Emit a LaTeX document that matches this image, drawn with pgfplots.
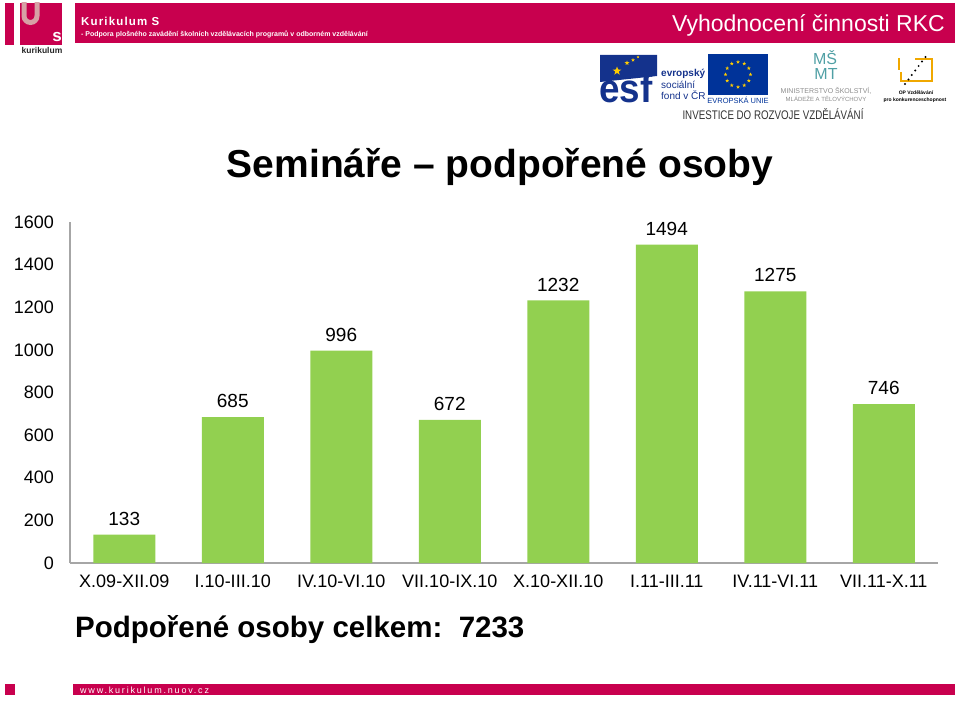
\documentclass[border=0pt]{standalone}
\usepackage{fontspec}
\setmainfont{Liberation Sans}
\usepackage{graphicx}
\usepackage{pgfplots}
\pgfplotsset{compat=1.18}
\usetikzlibrary{shapes.geometric}
\definecolor{crim}{RGB}{200,0,78}
\definecolor{pinkP}{RGB}{215,160,165}
\definecolor{bargreen}{RGB}{146,208,80}
\definecolor{axgray}{RGB}{166,166,166}
\definecolor{esfblue}{RGB}{20,50,140}
\definecolor{eublue}{RGB}{0,51,153}
\definecolor{eugold}{RGB}{255,204,0}
\definecolor{msmt}{RGB}{80,160,165}
\definecolor{opor}{RGB}{240,168,0}
\newcommand\fs[1]{\fontsize{#1}{#1}\selectfont}
\begin{document}
\begin{tikzpicture}[x=1pt,y=1pt]
\path[use as bounding box] (0pt,0pt) rectangle (960pt,702pt);
% ---- left logo
\fill[crim] (5,699) rectangle (14,657);
\fill[crim] (20,699) rectangle (62,657);
\begin{scope}
\clip (20,699) rectangle (62,657);
\draw[pinkP, line width=5] (24,702) -- (24,686) arc (180:360:6.5) -- (37,702);
\end{scope}
\node[white, font=\fs{17}\bfseries, inner sep=0, anchor=base] at (57,660) {s};
\node[black!85, font=\fs{8.5}\bfseries, inner sep=0, anchor=base] at (42,648) {kurikulum};
% ---- header bar
\fill[crim] (75,699) rectangle (955,659);
\node[white, font=\fs{11.5}\bfseries\addfontfeature{LetterSpace=10}, inner sep=0, anchor=base west] at (81,676) {Kurikulum S};
\node[white, font=\fs{7}\bfseries, inner sep=0, anchor=base west] at (81,665) {- Podpora plošného zavádění školních vzdělávacích programů v odborném vzdělávání};
\node[white, font=\fs{23}, inner sep=0, anchor=base east] at (945,670) {Vyhodnocení činnosti RKC};
% ---- ESF logo
\fill[esfblue] (600,647) -- (657,647) -- (657,626) -- (600,620) -- cycle;
\node[esfblue, inner sep=0, anchor=base west] at (599,599) {\scalebox{0.92}[1]{\fs{40}\bfseries esf}};
\node[star, star points=5, star point ratio=2.4, fill=eugold, inner sep=0, minimum size=9pt] at (617,631) {};
\node[star, star points=5, star point ratio=2.4, fill=eugold, inner sep=0, minimum size=5pt] at (627,639) {};
\node[star, star points=5, star point ratio=2.4, fill=eugold, inner sep=0, minimum size=4pt] at (633,642) {};
\node[star, star points=5, star point ratio=2.4, fill=eugold, inner sep=0, minimum size=3pt] at (638,645) {};
\node[esfblue, font=\fontsize{10}{11.5}\selectfont, align=left, inner sep=0, anchor=base west] at (661,602)
  {{\bfseries evropský}\\ sociální\\ fond v ČR};
% ---- EU flag
\fill[eublue] (708,648) rectangle (768,607);
\foreach \a in {0,30,...,330}
  \node[star, star points=5, star point ratio=2.4, fill=eugold, inner sep=0, minimum size=4pt] at ([shift={(\a:12.5)}]738,627.5) {};
\node[eublue, font=\fs{7.5}, inner sep=0, anchor=base] at (738,598) {EVROPSKÁ UNIE};
% ---- MSMT
\node[msmt, font=\fs{16}, inner sep=0, anchor=base] at (825,637) {MŠ};
\node[msmt, font=\fs{16}, inner sep=0, anchor=base] at (826,622) {MT};
\node[black!45, font=\fs{7}, inner sep=0, anchor=base] at (826,608) {MINISTERSTVO ŠKOLSTVÍ,};
\node[black!45, font=\fs{6}, inner sep=0, anchor=base] at (826,600) {MLÁDEŽE A TĚLOVÝCHOVY};
% ---- OP logo
\draw[opor, line width=2.5] (901,630) -- (901,621) -- (932,621) -- (932,643) -- (915,643);
\draw[opor, line width=2.5] (899,644) -- (899,632);
\foreach \i in {0,...,6}
  \fill[black] ({905+3.4*\i},{618+4.5*\i}) circle (1.1);
\node[black, font=\fs{5}\bfseries, inner sep=0, anchor=base] at (916,607) {OP Vzdělávání};
\node[black, font=\fs{5}\bfseries, inner sep=0, anchor=base] at (915,600) {pro konkurenceschopnost};
\node[black!80, inner sep=0, anchor=base] at (773,582) {\scalebox{0.78}[1]{\fs{12.5}INVESTICE DO ROZVOJE VZDĚLÁVÁNÍ}};
% ---- titles
\node[black, font=\fs{39}\bfseries, inner sep=0, anchor=base] at (500,524) {Semináře – podpořené osoby};
\node[black, font=\fs{29.5}\bfseries, inner sep=0, anchor=base west] at (75,65) {Podpořené osoby celkem:\ \ 7233};
% ---- footer
\fill[crim] (5,18) rectangle (15,7);
\fill[crim] (73,18) rectangle (955,7);
\node[white, font=\fs{9}\addfontfeature{LetterSpace=20}, inner sep=0, anchor=base west] at (80,9) {www.kurikulum.nuov.cz};
% ---- chart
\begin{axis}[
  at={(70pt,139pt)}, anchor=south west,
  scale only axis, width=868pt, height=341pt,
  xmin=-0.5, xmax=7.5, ymin=0, ymax=1600,
  ybar, bar width=62pt,
  axis x line*=bottom, axis y line*=left,
  axis line style={draw=axgray, line width=1.3pt},
  major tick length=0pt,
  xtick={0,...,7},
  xticklabels={X.09-XII.09, I.10-III.10, IV.10-VI.10, VII.10-IX.10, X.10-XII.10, I.11-III.11, IV.11-VI.11, VII.11-X.11},
  ytick={0,200,...,1600},
  /pgf/number format/assume math mode=true,
  /pgf/number format/1000 sep={},
  tick label style={font=\fs{18}, black},
  yticklabel style={inner sep=0pt, xshift=-16pt},
  xticklabel style={inner sep=0pt, yshift=-12pt},
  nodes near coords,
  every node near coord/.append style={font=\fs{19}, black, inner sep=0pt, yshift=9pt},
  clip=false,
]
\addplot[fill=bargreen, draw=none] coordinates {(0,133) (1,685) (2,996) (3,672) (4,1232) (5,1494) (6,1275) (7,746)};
\end{axis}
\end{tikzpicture}
\end{document}
